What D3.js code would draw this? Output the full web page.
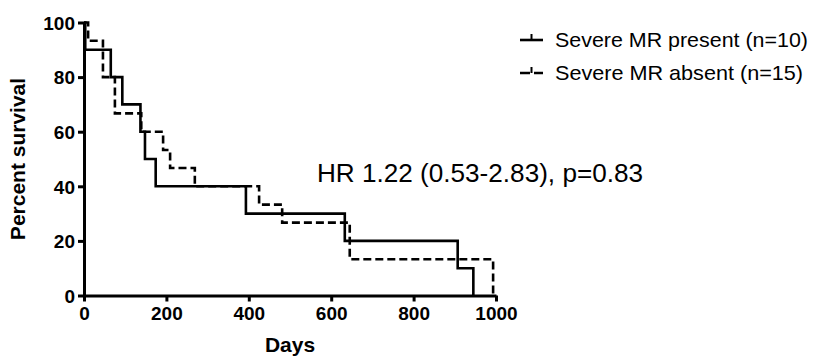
<!DOCTYPE html>
<html><head><meta charset="utf-8">
<script src="https://cdn.jsdelivr.net/npm/d3@7"></script>
<style>
html,body{margin:0;padding:0;background:#fff;}
svg{display:block;font-family:"Liberation Sans",Arial,sans-serif;}
</style></head>
<body><svg id="chart" width="813" height="356"></svg>
<script>
// Data
const presentDays = [0, 3, 65, 93, 137, 148, 174, 393, 633, 907, 945];
const presentSurv = [100, 90, 80, 70, 60, 50, 40, 30, 20, 10, 0];
const absentDays = [0, 10, 46, 75, 139, 192, 209, 269, 425, 481, 645, 993];
const absentSurv = [100, 93.3, 80, 66.7, 60, 53.3, 46.7, 40, 33.3, 26.7, 13.3, 0];
const xTicks = [0, 200, 400, 600, 800, 1000];
const yTicks = [0, 20, 40, 60, 80, 100];
const seriesNames = ["Severe MR present (n=10)", "Severe MR absent (n=15)"];
const annotation = "HR 1.22 (0.53-2.83), p=0.83";

const svg = d3.select("#chart");
const m = {left: 84, top: 22.5};
const W = 412, H = 273;
const g = svg.append("g").attr("transform", `translate(${m.left},${m.top})`);
const x = d3.scaleLinear().domain([0, 1000]).range([0, W]);
const y = d3.scaleLinear().domain([0, 100]).range([H, 0]);

// axes
const xAxis = g.append("g").attr("transform", `translate(0,${H})`)
  .call(d3.axisBottom(x).tickValues(xTicks).tickFormat(d3.format("d")).tickSize(6).tickPadding(5).tickSizeOuter(0));
const yAxis = g.append("g")
  .call(d3.axisLeft(y).tickValues(yTicks).tickFormat(d3.format("d")).tickSize(6).tickPadding(3).tickSizeOuter(0));
[xAxis, yAxis].forEach(a => {
  a.select(".domain").attr("stroke", "#000").attr("stroke-width", 3);
  a.selectAll(".tick line").attr("stroke", "#000").attr("stroke-width", 3);
  a.selectAll(".tick text").attr("fill", "#000").attr("font-size", 19)
    .attr("font-weight", "bold").attr("font-family", "Liberation Sans, Arial, sans-serif");
});
yAxis.selectAll(".tick text").attr("dy", "0.36em");

// curves
const line = d3.line().x(d => x(d[0])).y(d => y(d[1])).curve(d3.curveStepAfter);
const present = presentDays.map((d, i) => [d, presentSurv[i]]);
const absent = absentDays.map((d, i) => [d, absentSurv[i]]);
g.append("path").datum(absent).attr("d", line).attr("fill", "none")
  .attr("stroke", "#000").attr("stroke-width", 2.6).attr("stroke-dasharray", "8,4");
g.append("path").datum(present).attr("d", line).attr("fill", "none")
  .attr("stroke", "#000").attr("stroke-width", 2.6);

// axis titles
svg.append("text").attr("x", m.left + x(500)).attr("y", 352)
  .attr("text-anchor", "middle").attr("font-weight", "bold").attr("font-size", 21)
  .text("Days");
svg.append("text").attr("transform", `translate(25,${m.top + y(50)}) rotate(-90)`)
  .attr("text-anchor", "middle").attr("font-weight", "bold").attr("font-size", 21)
  .text("Percent survival");

// annotation
svg.append("text").attr("x", 317).attr("y", 182).attr("font-size", 25)
  .attr("textLength", 326).attr("lengthAdjust", "spacingAndGlyphs").text(annotation);

// legend
const leg = svg.append("g");
const ly = [40, 73];
leg.append("line").attr("x1", 520).attr("x2", 543).attr("y1", ly[0]).attr("y2", ly[0])
  .attr("stroke", "#000").attr("stroke-width", 2.6);
leg.append("line").attr("x1", 531.5).attr("x2", 531.5).attr("y1", ly[0] - 6).attr("y2", ly[0])
  .attr("stroke", "#000").attr("stroke-width", 2);
leg.append("line").attr("x1", 520).attr("x2", 543).attr("y1", ly[1]).attr("y2", ly[1])
  .attr("stroke", "#000").attr("stroke-width", 2.6).attr("stroke-dasharray", "10,4,9");
leg.append("line").attr("x1", 531.5).attr("x2", 531.5).attr("y1", ly[1] - 6).attr("y2", ly[1])
  .attr("stroke", "#000").attr("stroke-width", 2);
seriesNames.forEach((s, i) => {
  leg.append("text").attr("x", 555).attr("y", ly[i] + 7).attr("font-size", 21)
    .attr("textLength", i === 0 ? 253 : 248).attr("lengthAdjust", "spacingAndGlyphs").text(s);
});
</script></body></html>
